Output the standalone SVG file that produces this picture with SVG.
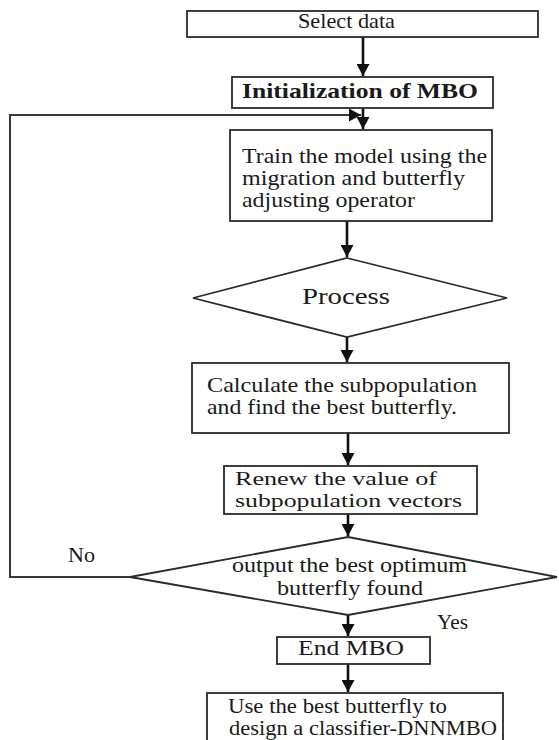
<svg xmlns="http://www.w3.org/2000/svg" width="559" height="740" viewBox="0 0 559 740">
<style>
.box{fill:#fff;stroke:#2a2a2a;stroke-width:1.8}
.t{font-family:'Liberation Serif','DejaVu Serif',serif;font-size:21px;fill:#1a1a1a}
.s{font-size:19.5px}
.b{font-weight:bold}
.c{stroke:#111;stroke-width:2.6;fill:none}
.loop{stroke:#3a3a3a;stroke-width:2;fill:none}
</style>
<defs>
<marker id="ah" markerUnits="userSpaceOnUse" markerWidth="13" markerHeight="13" refX="12" refY="6.5" orient="auto">
<path d="M0,0 L12,6.5 L0,13 z" fill="#111"/>
</marker>
</defs>
<rect width="559" height="740" fill="#fff"/>
<g id="connectors">
<line class="c" x1="363" y1="37" x2="363" y2="76" marker-end="url(#ah)"/>
<line class="c" x1="363" y1="108" x2="363" y2="129" marker-end="url(#ah)"/>
<polyline class="loop" points="130,577 10,577 10,115 361,115" marker-end="url(#ah)"/>
<line class="c" x1="347" y1="221" x2="347" y2="257" marker-end="url(#ah)"/>
<line class="c" x1="347" y1="337" x2="347" y2="362" marker-end="url(#ah)"/>
<line class="c" x1="348" y1="433" x2="348" y2="465" marker-end="url(#ah)"/>
<line class="c" x1="348" y1="514" x2="348" y2="536" marker-end="url(#ah)"/>
<line class="c" x1="348" y1="615" x2="348" y2="636" marker-end="url(#ah)"/>
<line class="c" x1="348" y1="664" x2="348" y2="692" marker-end="url(#ah)"/>
<text class="t" x="68" y="562" textLength="27" lengthAdjust="spacingAndGlyphs">No</text>
<text class="t" x="437" y="629" textLength="31" lengthAdjust="spacingAndGlyphs">Yes</text>
</g>
<g id="select">
<rect class="box" x="187" y="11" width="351" height="26"/>
<text class="t" x="298" y="28" textLength="97" lengthAdjust="spacingAndGlyphs">Select data</text>
</g>
<g id="init">
<rect class="box" x="232" y="77" width="261" height="31"/>
<text class="t b" x="242" y="98" textLength="236" lengthAdjust="spacingAndGlyphs">Initialization of MBO</text>
</g>
<g id="train">
<rect class="box" x="230" y="130" width="262" height="91"/>
<text class="t" x="242" y="163" textLength="245" lengthAdjust="spacingAndGlyphs">Train the model using the</text>
<text class="t" x="242" y="185" textLength="223" lengthAdjust="spacingAndGlyphs">migration and butterfly</text>
<text class="t" x="242" y="207" textLength="173" lengthAdjust="spacingAndGlyphs">adjusting operator</text>
</g>
<g id="process">
<polygon class="box" points="347,258 507,298 347,337 193,298"/>
<text class="t" x="302" y="304" style="font-size:23px" textLength="88" lengthAdjust="spacingAndGlyphs">Process</text>
</g>
<g id="calc">
<rect class="box" x="192" y="363" width="317" height="70"/>
<text class="t" x="207" y="392" textLength="270" lengthAdjust="spacingAndGlyphs">Calculate the subpopulation</text>
<text class="t" x="207" y="414" textLength="250" lengthAdjust="spacingAndGlyphs">and find the best butterfly.</text>
</g>
<g id="renew">
<rect class="box" x="224" y="466" width="253" height="48"/>
<text class="t s" x="235" y="485" textLength="202" lengthAdjust="spacingAndGlyphs">Renew the value of</text>
<text class="t s" x="235" y="507" textLength="227" lengthAdjust="spacingAndGlyphs">subpopulation vectors</text>
</g>
<g id="decision">
<polygon class="box" points="348,537 557,577 348,615 130,577"/>
<text class="t" x="232" y="572" textLength="235" lengthAdjust="spacingAndGlyphs">output the best optimum</text>
<text class="t" x="277" y="595" textLength="146" lengthAdjust="spacingAndGlyphs">butterfly found</text>
</g>
<g id="end">
<rect class="box" x="277" y="637" width="153" height="27"/>
<text class="t" x="298" y="655" textLength="106" lengthAdjust="spacingAndGlyphs">End MBO</text>
</g>
<g id="use">
<rect class="box" x="207" y="693" width="296" height="60"/>
<text class="t" x="228" y="713" textLength="219" lengthAdjust="spacingAndGlyphs">Use the best butterfly to</text>
<text class="t" x="229" y="735" textLength="268" lengthAdjust="spacingAndGlyphs">design a classifier-DNNMBO</text>
</g>
</svg>
